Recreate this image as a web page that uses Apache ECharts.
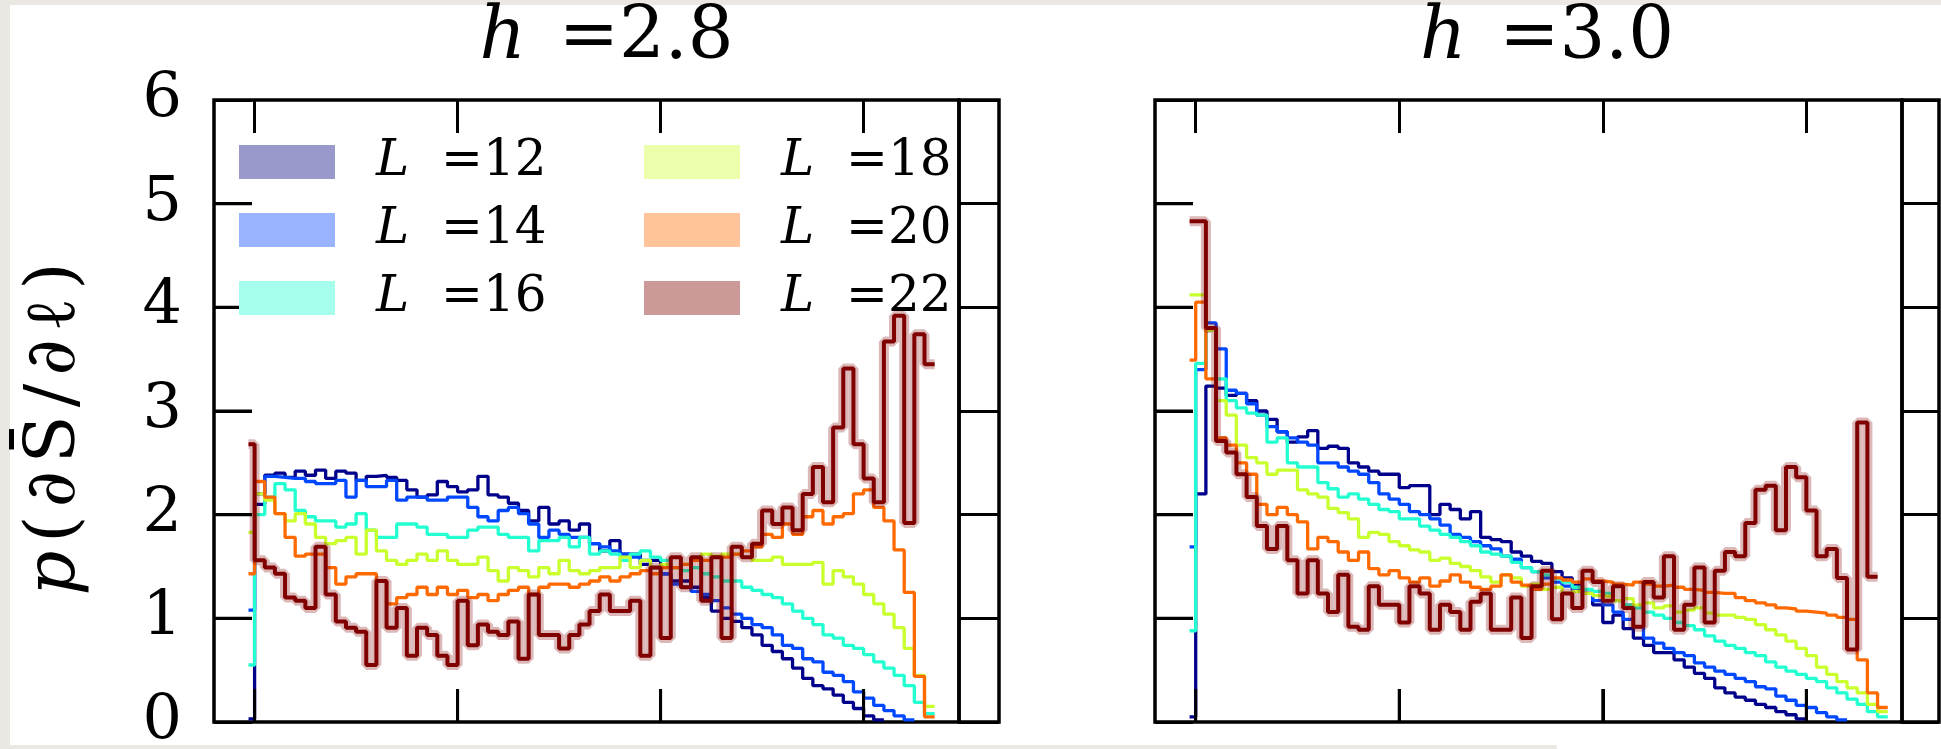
<!DOCTYPE html>
<html>
<head>
<meta charset="utf-8">
<script src="https://cdn.jsdelivr.net/npm/echarts@6/dist/echarts.min.js"></script>
<style>
html, body { margin: 0; padding: 0; background: #ebe8e3; overflow: hidden; }
#paper { position: absolute; left: 10px; top: 5px; width: 1931px; height: 740px; background: #fff; }
#tag { position: absolute; left: 1557px; top: 740px; width: 384px; height: 9px; background: #fff; }
#chart { position: absolute; left: 0; top: 0; width: 1941px; height: 749px; }
</style>
</head>
<body>
<div id="paper"></div>
<div id="tag"></div>
<div id="chart"></div>
<script>
// system sizes and jet-like colours
const sizes = ['12', '14', '16', '18', '20', '22']
const lineColors = ['#00008b', '#0048ff', '#22ffd0', '#c8ff2c', '#ff6a00', '#800000']
const swatchColors = ['#9999cc', '#99b3ff', '#a6ffec', '#ecffaa', '#ffc499', '#cc9999']
const panelTitles = ['2.8', '3.0']
const yTicks = [0, 1, 2, 3, 4, 5, 6]
const xTicks = [0, 1, 2, 3]

// histogram heights: first value is the short bin just left of 0, then bins of 0.05
const h28_L12 = [0.03, 2.1, 2.38, 2.40, 2.36, 2.42, 2.38, 2.43, 2.35, 2.42, 2.40, 2.33, 2.37, 2.38, 2.36, 2.33, 2.24, 2.17, 2.19, 2.32, 2.27, 2.22, 2.24, 2.37, 2.19, 2.17, 2.11, 2.04, 1.94, 2.07, 1.91, 1.94, 1.85, 1.91, 1.72, 1.65, 1.75, 1.62, 1.62, 1.52, 1.56, 1.43, 1.36, 1.36, 1.30, 1.20, 1.07, 1.00, 0.97, 0.91, 0.84, 0.74, 0.68, 0.61, 0.52, 0.42, 0.35, 0.32, 0.26, 0.19, 0.13, 0.06, 0.02]
const h28_L14 = [1.08, 2.2, 2.37, 2.36, 2.35, 2.35, 2.32, 2.30, 2.30, 2.33, 2.17, 2.33, 2.27, 2.27, 2.33, 2.14, 2.17, 2.17, 2.14, 2.14, 2.17, 2.17, 2.07, 1.98, 1.94, 2.04, 2.07, 2.01, 1.91, 1.78, 1.85, 1.81, 1.78, 1.78, 1.72, 1.69, 1.65, 1.62, 1.59, 1.56, 1.49, 1.43, 1.33, 1.30, 1.26, 1.23, 1.17, 1.10, 1.04, 1.00, 0.94, 0.91, 0.84, 0.74, 0.71, 0.61, 0.58, 0.48, 0.45, 0.39, 0.29, 0.23, 0.16, 0.11, 0.06, 0.02]
const h28_L16 = [0.55, 2.0, 2.17, 2.30, 2.24, 2.04, 1.98, 1.94, 1.94, 1.88, 1.91, 2.01, 1.85, 1.78, 1.78, 1.91, 1.91, 1.88, 1.81, 1.81, 1.78, 1.78, 1.85, 1.88, 1.88, 1.81, 1.78, 1.78, 1.65, 1.75, 1.75, 1.78, 1.69, 1.78, 1.62, 1.65, 1.62, 1.56, 1.62, 1.65, 1.59, 1.56, 1.49, 1.46, 1.49, 1.43, 1.40, 1.36, 1.36, 1.30, 1.27, 1.23, 1.20, 1.14, 1.07, 1.00, 0.94, 0.84, 0.81, 0.74, 0.71, 0.65, 0.58, 0.52, 0.45, 0.35, 0.19, 0.08]
const h28_L18 = [1.83, 2.2, 2.14, 2.01, 1.94, 2.01, 1.91, 1.78, 1.72, 1.75, 1.78, 1.62, 1.85, 1.65, 1.56, 1.52, 1.56, 1.62, 1.56, 1.65, 1.56, 1.52, 1.52, 1.59, 1.46, 1.36, 1.49, 1.46, 1.40, 1.49, 1.43, 1.56, 1.46, 1.43, 1.46, 1.49, 1.49, 1.59, 1.49, 1.56, 1.49, 1.52, 1.49, 1.52, 1.56, 1.62, 1.60, 1.62, 1.62, 1.59, 1.56, 1.56, 1.59, 1.52, 1.52, 1.52, 1.54, 1.33, 1.46, 1.40, 1.33, 1.23, 1.14, 1.04, 0.91, 0.71, 0.45, 0.15]
const h28_L20 = [1.43, 2.32, 2.17, 2.01, 1.78, 1.60, 1.62, 1.62, 1.49, 1.33, 1.40, 1.43, 1.43, 1.36, 1.14, 1.20, 1.23, 1.30, 1.23, 1.30, 1.23, 1.27, 1.20, 1.23, 1.17, 1.23, 1.27, 1.30, 1.23, 1.30, 1.33, 1.33, 1.30, 1.33, 1.36, 1.40, 1.36, 1.40, 1.43, 1.46, 1.43, 1.49, 1.49, 1.52, 1.56, 1.56, 1.59, 1.59, 1.62, 1.65, 1.69, 1.81, 1.78, 1.91, 1.81, 1.98, 2.04, 1.91, 1.98, 2.01, 2.20, 2.24, 2.07, 1.94, 1.66, 1.25, 0.44, 0.05]
const h28_L22 = [2.68, 1.56, 1.49, 1.43, 1.20, 1.17, 1.10, 1.69, 1.23, 0.97, 0.91, 0.87, 0.55, 1.36, 0.91, 1.10, 0.64, 0.91, 0.84, 0.64, 0.55, 1.17, 0.74, 0.94, 0.87, 0.84, 0.97, 0.61, 1.23, 0.84, 0.84, 0.71, 0.84, 0.94, 1.07, 1.23, 1.07, 1.07, 1.17, 0.64, 1.49, 0.81, 1.59, 1.30, 1.59, 1.17, 1.59, 0.81, 1.69, 1.59, 1.72, 2.04, 1.91, 2.07, 1.85, 2.20, 2.46, 2.12, 2.84, 3.41, 2.68, 2.35, 2.12, 3.67, 3.92, 1.92, 3.74, 3.45]

const h30_L12 = [0.05, 2.2, 3.24, 3.22, 3.15, 3.17, 3.10, 3.00, 2.92, 2.80, 2.70, 2.75, 2.81, 2.64, 2.66, 2.64, 2.50, 2.46, 2.42, 2.39, 2.39, 2.26, 2.28, 2.28, 2.00, 2.10, 2.05, 1.96, 2.03, 1.78, 1.76, 1.74, 1.64, 1.60, 1.55, 1.53, 1.45, 1.39, 1.32, 1.24, 1.13, 0.96, 1.03, 0.90, 0.81, 0.74, 0.67, 0.67, 0.60, 0.53, 0.47, 0.42, 0.33, 0.28, 0.24, 0.21, 0.17, 0.14, 0.10, 0.07, 0.03]
const h30_L14 = [1.69, 3.40, 3.85, 3.60, 3.20, 3.17, 3.07, 2.96, 2.85, 2.80, 2.74, 2.70, 2.67, 2.50, 2.50, 2.46, 2.42, 2.39, 2.31, 2.20, 2.15, 2.10, 2.03, 2.00, 1.96, 1.90, 1.81, 1.78, 1.74, 1.70, 1.67, 1.60, 1.57, 1.49, 1.45, 1.39, 1.35, 1.31, 1.27, 1.24, 1.17, 1.13, 1.06, 0.99, 0.92, 0.81, 0.76, 0.71, 0.67, 0.64, 0.57, 0.53, 0.49, 0.46, 0.42, 0.39, 0.34, 0.32, 0.25, 0.21, 0.16, 0.14, 0.09, 0.05, 0.02]
const h30_L16 = [0.88, 3.46, 3.78, 3.31, 3.10, 3.03, 2.98, 2.96, 2.70, 2.74, 2.50, 2.46, 2.46, 2.31, 2.25, 2.17, 2.20, 2.15, 2.10, 2.05, 2.03, 1.96, 1.96, 1.89, 1.85, 1.81, 1.78, 1.74, 1.70, 1.64, 1.62, 1.60, 1.54, 1.49, 1.45, 1.42, 1.38, 1.35, 1.30, 1.28, 1.26, 1.24, 1.17, 1.13, 1.10, 1.06, 1.03, 1.00, 0.96, 0.93, 0.89, 0.83, 0.78, 0.74, 0.71, 0.67, 0.64, 0.58, 0.53, 0.49, 0.46, 0.42, 0.39, 0.33, 0.28, 0.22, 0.17, 0.10, 0.05]
const h30_L18 = [4.12, 4.12, 3.78, 3.10, 2.96, 2.67, 2.55, 2.50, 2.39, 2.43, 2.43, 2.24, 2.20, 2.17, 2.06, 2.02, 1.96, 1.78, 1.83, 1.81, 1.74, 1.70, 1.66, 1.64, 1.56, 1.58, 1.53, 1.50, 1.46, 1.40, 1.35, 1.42, 1.39, 1.31, 1.33, 1.28, 1.30, 1.24, 1.26, 1.24, 1.22, 1.21, 1.17, 1.19, 1.13, 1.15, 1.10, 1.12, 1.06, 1.08, 1.10, 1.05, 1.03, 1.03, 1.01, 0.99, 0.94, 0.89, 0.84, 0.78, 0.71, 0.64, 0.53, 0.46, 0.39, 0.33, 0.28, 0.17, 0.10]
const h30_L20 = [3.49, 4.05, 3.31, 2.74, 2.67, 2.50, 2.39, 2.10, 2.00, 2.07, 2.00, 1.93, 1.67, 1.78, 1.74, 1.64, 1.56, 1.64, 1.48, 1.42, 1.46, 1.39, 1.35, 1.39, 1.31, 1.36, 1.42, 1.35, 1.30, 1.28, 1.31, 1.42, 1.35, 1.32, 1.28, 1.33, 1.39, 1.37, 1.35, 1.38, 1.36, 1.35, 1.33, 1.32, 1.35, 1.33, 1.31, 1.32, 1.30, 1.28, 1.27, 1.25, 1.24, 1.24, 1.20, 1.17, 1.15, 1.13, 1.10, 1.09, 1.07, 1.06, 1.05, 1.03, 1.01, 0.99, 0.60, 0.28, 0.14]
const h30_L22 = [4.83, 4.83, 3.80, 2.71, 2.60, 2.39, 2.17, 1.89, 1.67, 1.89, 1.56, 1.24, 1.56, 1.24, 1.06, 1.42, 0.92, 0.89, 1.31, 1.13, 1.13, 0.96, 1.31, 1.24, 0.89, 1.13, 1.06, 0.89, 1.16, 1.24, 0.89, 0.89, 1.20, 0.81, 1.31, 1.46, 0.99, 1.24, 1.10, 1.46, 1.35, 1.17, 1.31, 1.10, 0.92, 1.35, 1.20, 1.60, 0.89, 1.13, 1.49, 0.96, 1.46, 1.64, 1.60, 1.92, 2.24, 2.28, 1.85, 2.46, 2.36, 2.04, 1.60, 1.67, 1.39, 0.70, 2.89, 1.40]

const panels = [
  [h28_L12, h28_L14, h28_L16, h28_L18, h28_L20, h28_L22],
  [h30_L12, h30_L14, h30_L16, h30_L18, h30_L20, h30_L22]
]

const binWidth = 0.05
const firstEdge = -0.03

// histogram values -> [edge, height] pairs for a step line
function toSteps (vals) {
  const pts = vals.map((v, i) => [i === 0 ? firstEdge : (i - 1) * binWidth, v])
  pts.push([(vals.length - 1) * binWidth, vals[vals.length - 1]])
  return pts
}

const serif = 'DejaVu Serif'
const black = '#000'
const xMin = -0.2
const xMax = 3.47
const yMin = 0
const yMax = 6
// plot boxes: main panel + narrow strip on its right
const boxes = [
  { left: 214, width: 745, strip: 40 },
  { left: 1155, width: 747, strip: 37 }
]
const plotTop = 100
const plotHeight = 622
const xTickLen = 33
const yTickLen = 38

const grid = []
const xAxis = []
const yAxis = []
const series = []
const title = []

const nameRich = {
  pi: { fontFamily: serif, fontStyle: 'italic', fontSize: 70, color: black, padding: [0, 4] },
  c: { fontFamily: serif, fontSize: 70, color: black, padding: [0, 4] },
  e: { fontFamily: serif, fontSize: 70, color: black, padding: [0, 40, 0, 4] }
}

function boxGrid (left, width) {
  return { left: left, top: plotTop, width: width, height: plotHeight, show: true, borderColor: black, borderWidth: 3.5, backgroundColor: 'transparent', containLabel: false, outerBoundsMode: 'none' }
}

// short inward tick drawn as a two-point segment in the panel's own data space
function tickSeries (xi, yi, pts) {
  return {
    name: 'tick',
    type: 'line',
    xAxisIndex: xi,
    yAxisIndex: yi,
    symbol: 'none',
    silent: true,
    z: 3,
    lineStyle: { color: black, width: 3 },
    data: pts
  }
}

boxes.forEach(function (b, p) {
  const g = grid.length
  grid.push(boxGrid(b.left, b.width))
  grid.push(boxGrid(b.left + b.width, b.strip))
  const xTickSpan = xTickLen / plotHeight * (yMax - yMin)
  const yTickSpan = yTickLen / b.width * (xMax - xMin)

  const xi = xAxis.length
  const yi = yAxis.length
  const helperX = xi + 3
  const helperY = yi + 2

  // main x axis used by the series
  xAxis.push({ type: 'value', gridIndex: g, position: 'bottom', min: xMin, max: xMax, axisLine: { show: false, onZero: false }, axisTick: { show: false }, axisLabel: { show: false }, splitLine: { show: false } })
  // ticks hanging down from the top edge
  xAxis.push({ type: 'value', gridIndex: g, position: 'top', min: xMin, max: xMax, axisLine: { show: false, onZero: false }, axisTick: { show: true, inside: true, length: xTickLen, lineStyle: { color: black, width: 3 }, customValues: xTicks }, axisLabel: { show: false }, splitLine: { show: false } })
  // ticks standing on the bottom edge: axis parked one tick length above it, ticks pointing down
  xAxis.push({ type: 'value', gridIndex: g, position: 'bottom', min: xMin, max: xMax, axisLine: { show: false, onZero: true, onZeroAxisIndex: helperY }, axisTick: { show: true, inside: false, length: xTickLen, lineStyle: { color: black, width: 3 }, customValues: xTicks }, axisLabel: { show: false }, splitLine: { show: false } })
  // hidden helper whose zero sits one tick length inside the left edge
  xAxis.push({ type: 'value', gridIndex: g, position: 'bottom', show: false, min: -yTickSpan, max: xMax - xMin - yTickSpan, axisLine: { show: false, onZero: false } })
  xAxis.push({ type: 'value', gridIndex: g + 1, min: 0, max: 1, show: false, axisLine: { show: false, onZero: false } })

  yAxis.push({
    type: 'value',
    gridIndex: g,
    position: 'left',
    min: yMin,
    max: yMax,
    interval: 1,
    axisLine: { show: false, onZero: false },
    axisTick: { show: false },
    axisLabel: { show: p === 0, color: black, fontFamily: serif, fontSize: 62, margin: 32, customValues: yTicks },
    splitLine: { show: false },
    name: p === 0 ? '{pi|p}{c|(}{c|∂}{c|S\u0304}{c|/}{c|∂}{c|ℓ}{e|)}' : '',
    nameLocation: 'middle',
    nameRotate: 90,
    nameGap: 123,
    nameTextStyle: { color: black, fontFamily: serif, fontSize: 70, rich: nameRich }
  })
  // ticks along the left edge: axis parked one tick length inside, ticks pointing left
  yAxis.push({ type: 'value', gridIndex: g, position: 'left', min: yMin, max: yMax, interval: 1, axisLine: { show: false, onZero: true, onZeroAxisIndex: helperX }, axisTick: { show: true, inside: false, length: yTickLen, lineStyle: { color: black, width: 3 } }, axisLabel: { show: false }, splitLine: { show: false } })
  // hidden helper whose zero sits one tick length above the bottom edge
  yAxis.push({ type: 'value', gridIndex: g, position: 'right', show: false, min: yMin - xTickSpan, max: yMax - xTickSpan, axisLine: { show: false, onZero: false } })
  // right strip: lines across at every unit
  yAxis.push({ type: 'value', gridIndex: g + 1, min: yMin, max: yMax, interval: 1, axisLine: { show: false, onZero: false }, axisTick: { show: false }, axisLabel: { show: false }, splitLine: { show: true, lineStyle: { color: black, width: 3 } } })

  title.push({
    text: '{i|h} =' + panelTitles[p],
    left: b.left + (b.width + b.strip) / 2,
    textAlign: 'center',
    top: 3,
    padding: 0,
    textStyle: { color: black, fontFamily: serif, fontSize: 72, fontWeight: 'normal', rich: { i: { fontFamily: serif, fontStyle: 'italic', fontSize: 72, color: black, padding: [0, 10, 0, 0] } } }
  })

  panels[p].forEach(function (vals, s) {
    if (s === 5) {
      // faint error band under the largest system
      series.push({
        name: 'err' + p,
        type: 'line',
        step: 'end',
        xAxisIndex: xi,
        yAxisIndex: yi,
        symbol: 'none',
        silent: true,
        lineStyle: { color: 'rgba(128,0,0,0.28)', width: 10 },
        data: toSteps(vals)
      })
    }
    series.push({
      name: 'L =' + sizes[s],
      type: 'line',
      step: 'end',
      xAxisIndex: xi,
      yAxisIndex: yi,
      symbol: 'none',
      silent: true,
      lineStyle: { color: lineColors[s], width: s === 5 ? 4 : 3.3 },
      itemStyle: { color: lineColors[s] },
      data: toSteps(vals)
    })
  })

  xTicks.forEach(function (u) {
    series.push(tickSeries(xi, yi, [[u, yMin], [u, yMin + xTickSpan]]))
  })
  yTicks.slice(1, -1).forEach(function (v) {
    series.push(tickSeries(xi, yi, [[xMin, v], [xMin + yTickSpan, v]]))
  })
})

function legendBlock (idx, left) {
  return {
    orient: 'vertical',
    left: left,
    top: 137,
    padding: 0,
    itemWidth: 96,
    itemHeight: 34,
    itemGap: 18,
    icon: 'rect',
    selectedMode: false,
    data: idx.map(function (s) {
      return { name: 'L =' + sizes[s], itemStyle: { color: swatchColors[s], opacity: 1, borderWidth: 0 } }
    }),
    formatter: function (name) {
      return '{i|L}  =' + name.split('=')[1]
    },
    textStyle: {
      color: black,
      fontFamily: serif,
      fontSize: 50,
      rich: { i: { fontFamily: serif, fontStyle: 'italic', fontSize: 50, color: black, padding: [0, 0, 0, 36] } }
    }
  }
}

const chart = echarts.init(document.getElementById('chart'), null, { renderer: 'canvas' })
chart.setOption({
  animation: false,
  backgroundColor: 'transparent',
  title: title,
  legend: [legendBlock([0, 1, 2], 239), legendBlock([3, 4, 5], 644)],
  grid: grid,
  xAxis: xAxis,
  yAxis: yAxis,
  series: series
})
</script>
</body>
</html>
